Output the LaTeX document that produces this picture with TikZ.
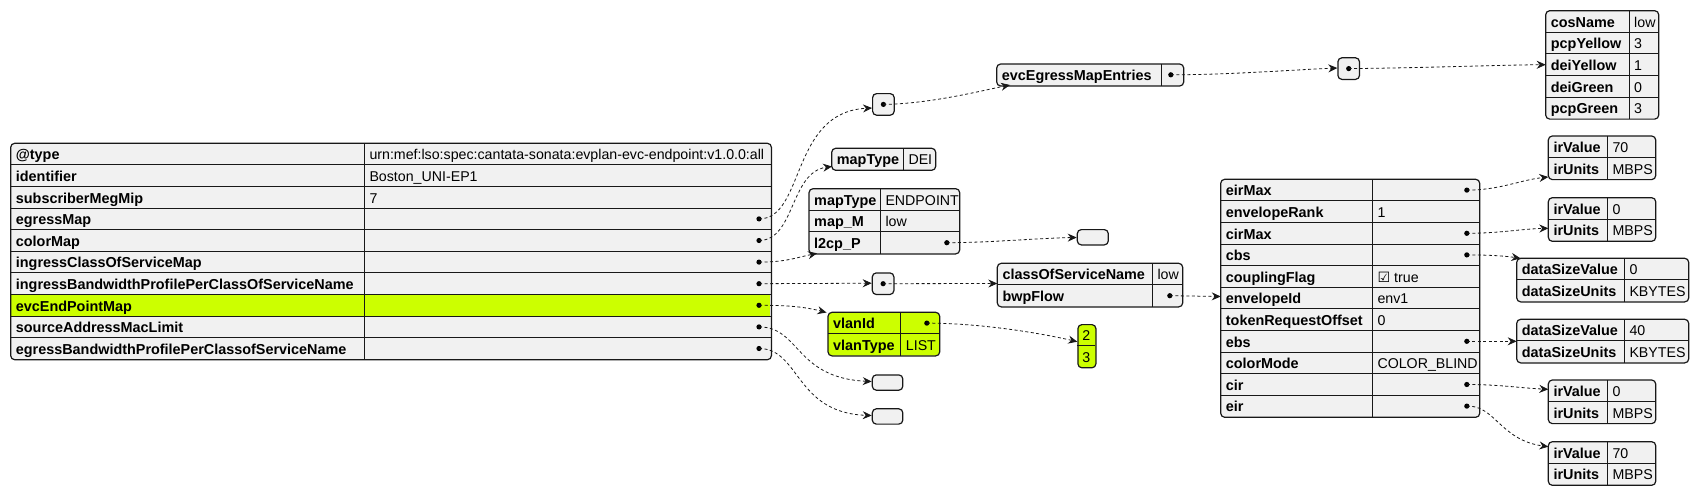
\documentclass[tikz,border=0pt]{standalone}
\usepackage{fontspec}
\setmainfont{Liberation Sans}
\newfontfamily\symf{DejaVu Sans}
\usetikzlibrary{arrows.meta}
\definecolor{jgray}{HTML}{F1F1F1}
\definecolor{jdark}{HTML}{181818}
\definecolor{jgreen}{HTML}{CCFF00}
\newcommand{\jkeyfont}{\bfseries\fontsize{14.4}{16}\selectfont}
\newcommand{\jvalfont}{\fontsize{14.2}{16}\selectfont}
% #1 name, #2 x1, #3 x2, #4 ytop, #5 nrows, #6 fill
\newcommand{\jbox}[6]{%
  \pgfmathsetmacro{\jh}{#5*21.6}\pgfmathsetmacro{\jw}{#3-#2}%
  \node[jboxst, fill=#6, minimum width=\jw pt, minimum height=\jh pt] (#1) at (#2,#4) {};}
% #1 name, #2 x1, #3 xd, #4 x2, #5 ytop, #6 nrows, #7 list key/val
\newcommand{\jrows}[7]{%
  \ifnum#6>1
    \foreach \j in {1,...,\numexpr#6-1\relax}{\draw[jline] (#2,{#5+\j*21.6}) -- (#4,{#5+\j*21.6});}
  \fi
  \draw[jline] (#3,#5) -- (#3,{#5+#6*21.6});
  \foreach \k/\v [count=\i from 0] in {#7}{%
    \node[jkey] (#1k\i) at ({#2+5},{#5+\i*21.6+16.6}) {\k};
    \node[jval] (#1v\i) at ({#3+5},{#5+\i*21.6+16.6}) {\v};
  }%
  \draw[jborder] (#1.north west) rectangle (#1.south east);}
\begin{document}
\begin{tikzpicture}[x=1pt,y=-1pt,
  jboxst/.style={draw=none, rounded corners=4pt, inner sep=0pt, anchor=north west},
  jborder/.style={draw=jdark, line width=1.2pt, rounded corners=4pt},
  jline/.style={draw=jdark, line width=0.9pt},
  jkey/.style={anchor=base west, inner sep=0pt, font=\jkeyfont},
  jval/.style={anchor=base west, inner sep=0pt, font=\jvalfont},
  jdot/.style={circle, fill=black, draw=none, inner sep=0pt, minimum size=5.2pt},
  jarrow/.style={draw=jdark, line width=0.8pt, dash pattern=on 3pt off 2.5pt,
     -{Stealth[length=9pt,width=8pt,inset=3pt]}},
]
\useasboundingbox (0,0) rectangle (1699,495);

% ---------- main table ----------
\jbox{main}{10.7}{771}{143.3}{10}{jgray}
\fill[jgreen] (11.3,{143.3+7*21.6}) rectangle (770.4,{143.3+8*21.6});
\jrows{main}{10.7}{364.3}{771}{143.3}{10}{%
  @type/urn:mef:lso:spec:cantata-sonata:evplan-evc-endpoint:v1.0.0:all,
  identifier/Boston\_UNI-EP1,
  subscriberMegMip/7,
  egressMap/{},
  colorMap/{},
  ingressClassOfServiceMap/{},
  ingressBandwidthProfilePerClassOfServiceName/{},
  evcEndPointMap/{},
  sourceAddressMacLimit/{},
  egressBandwidthProfilePerClassofServiceName/{}}
\node[jdot] (dEgress) at (759,218.9) {};
\node[jdot] (dColor) at (759,240.5) {};
\node[jdot] (dIngCos) at (759,262.1) {};
\node[jdot] (dIngBw) at (759,283.7) {};
\node[jdot] (dEvcEp) at (759,305.3) {};
\node[jdot] (dSrc) at (759,326.9) {};
\node[jdot] (dEgrBw) at (759,348.5) {};

% ---------- second column ----------
\node[jboxst, draw=jdark, line width=1.2pt, fill=jgray, minimum width=21.6pt, minimum height=21.6pt] (arrA) at (872,93) {};
\node[jdot] (dArrA) at (arrA.center) {};

\jbox{dei}{831.7}{935.3}{148.3}{1}{jgray}
\jrows{dei}{831.7}{903.3}{935.3}{148.3}{1}{mapType/DEI}

\jbox{endp}{809}{959.3}{188.7}{3}{jgray}
\jrows{endp}{809}{880.3}{959.3}{188.7}{3}{mapType/ENDPOINT, map\_M/low, l2cp\_P/{}}
\node[jdot] (dL2cp) at (946.8,242.7) {};

\node[jboxst, draw=jdark, line width=1.2pt, fill=jgray, minimum width=21.6pt, minimum height=21.6pt] (arrB) at (871.7,272.3) {};
\node[jdot] (dArrB) at (arrB.center) {};

\jbox{vlan}{828}{939.3}{312.3}{2}{jgreen}
\jrows{vlan}{828}{900.7}{939.3}{312.3}{2}{vlanId/{}, vlanType/LIST}
\node[jdot] (dVlan) at (926.8,323.1) {};

\node[jboxst, draw=jdark, line width=1.2pt, fill=jgray, minimum width=30.5pt, minimum height=15.3pt] (emptyA) at (871.7,374.3) {};
\node[jboxst, draw=jdark, line width=1.2pt, fill=jgray, minimum width=30.5pt, minimum height=15.3pt] (emptyB) at (871.7,408.2) {};

% ---------- third column ----------
\jbox{egrEnt}{996.7}{1183.3}{64}{1}{jgray}
\jrows{egrEnt}{996.7}{1161.7}{1183.3}{64}{1}{evcEgressMapEntries/{}}
\node[jdot] (dEgrEnt) at (1170.8,74.8) {};

\node[jboxst, draw=jdark, line width=1.2pt, fill=jgray, minimum width=31pt, minimum height=15.3pt] (emptyC) at (1076.7,229) {};

\jbox{cls}{997.3}{1182.3}{263.3}{2}{jgray}
\jrows{cls}{997.3}{1152.3}{1182.3}{263.3}{2}{classOfServiceName/low, bwpFlow/{}}
\node[jdot] (dBwp) at (1169.8,295.7) {};

\node[jboxst, draw=jdark, line width=1.2pt, fill=jgreen, minimum width=18pt, minimum height=43.2pt] (lst) at (1077.3,324) {};
\draw[jline] (1077.3,345.6) -- (1095.3,345.6);
\node[jval, anchor=base] (lst0) at (1086.3,340.6) {2};
\node[jval, anchor=base] (lst1) at (1086.3,362.2) {3};

% ---------- fourth column ----------
\node[jboxst, draw=jdark, line width=1.2pt, fill=jgray, minimum width=21.6pt, minimum height=21.6pt] (arrC) at (1337.3,57.2) {};
\node[jdot] (dArrC) at (arrC.center) {};

\jbox{bwp}{1220.7}{1479.3}{179.3}{11}{jgray}
\jrows{bwp}{1220.7}{1372.3}{1479.3}{179.3}{11}{%
  eirMax/{}, envelopeRank/1, cirMax/{}, cbs/{},
  couplingFlag/{{\symf ☑}~true}, envelopeId/env1, tokenRequestOffset/0,
  ebs/{}, colorMode/COLOR\_BLIND, cir/{}, eir/{}}
\node[jdot] (dEirMax) at (1466.8,190.1) {};
\node[jdot] (dCirMax) at (1466.8,233.3) {};
\node[jdot] (dCbs) at (1466.8,254.9) {};
\node[jdot] (dEbs) at (1466.8,341.3) {};
\node[jdot] (dCir) at (1466.8,384.5) {};
\node[jdot] (dEir) at (1466.8,406.1) {};

% ---------- fifth column ----------
\jbox{cos}{1545.7}{1658.3}{10.7}{5}{jgray}
\jrows{cos}{1545.7}{1629}{1658.3}{10.7}{5}{cosName/low, pcpYellow/3, deiYellow/1, deiGreen/0, pcpGreen/3}

\jbox{irA}{1548.3}{1655.3}{136}{2}{jgray}
\jrows{irA}{1548.3}{1607.3}{1655.3}{136}{2}{irValue/70, irUnits/MBPS}
\jbox{irB}{1548.3}{1655.3}{197.7}{2}{jgray}
\jrows{irB}{1548.3}{1607.3}{1655.3}{197.7}{2}{irValue/0, irUnits/MBPS}
\jbox{dsA}{1516.7}{1688.3}{258.3}{2}{jgray}
\jrows{dsA}{1516.7}{1624.3}{1688.3}{258.3}{2}{dataSizeValue/0, dataSizeUnits/KBYTES}
\jbox{dsB}{1516.7}{1688.3}{319.3}{2}{jgray}
\jrows{dsB}{1516.7}{1624.3}{1688.3}{319.3}{2}{dataSizeValue/40, dataSizeUnits/KBYTES}
\jbox{irC}{1548.3}{1655.3}{380}{2}{jgray}
\jrows{irC}{1548.3}{1607.3}{1655.3}{380}{2}{irValue/0, irUnits/MBPS}
\jbox{irD}{1548.3}{1655.3}{441.7}{2}{jgray}
\jrows{irD}{1548.3}{1607.3}{1655.3}{441.7}{2}{irValue/70, irUnits/MBPS}

% ---------- arrow targets ----------
\coordinate (tArrA) at (872,108);
\coordinate (tDei) at (832,166.5);
\coordinate (tEndp) at (817,253.3);
\coordinate (tArrB) at (871.7,283.2);
\coordinate (tVlan) at (826.5,312.5);
\coordinate (tEmptyA) at (871.7,381.5);
\coordinate (tEmptyB) at (871.7,415.5);
\coordinate (tEgrEnt) at (1010,85);
\coordinate (tArrC) at (1337.3,68);
\coordinate (tCos) at (1545.7,64.7);
\coordinate (tEmptyC) at (1076.7,237.5);
\coordinate (tCls) at (997.3,283.5);
\coordinate (tLst) at (1077.3,341.7);
\coordinate (tBwp) at (1220.7,296.5);
\coordinate (tIrA) at (1548.3,177);
\coordinate (tIrB) at (1548.3,228.3);
\coordinate (tDsA) at (1520.5,258.3);
\coordinate (tDsB) at (1516.7,341.3);
\coordinate (tIrC) at (1548.3,389.3);
\coordinate (tIrD) at (1548.3,446.7);

% ---------- connectors ----------
\draw[jarrow] (dEgress.center) .. controls (805,218.9) and (790,112) .. (tArrA);
\draw[jarrow] (dColor.center) .. controls (795,240.5) and (790,172) .. (tDei);
\draw[jarrow] (dIngCos.center) .. controls (785,262.1) and (795,258) .. (tEndp);
\draw[jarrow] (dIngBw.center) -- (tArrB);
\draw[jarrow] (dEvcEp.center) .. controls (790,305.3) and (805,307) .. (tVlan);
\draw[jarrow] (dSrc.center) .. controls (800,326.9) and (795,378) .. (tEmptyA);
\draw[jarrow] (dEgrBw.center) .. controls (800,348.5) and (795,413) .. (tEmptyB);
\draw[jarrow] (dArrA.center) .. controls (930,103.8) and (980,91) .. (tEgrEnt);
\draw[jarrow] (dEgrEnt.center) .. controls (1230,74.8) and (1290,70) .. (tArrC);
\draw[jarrow] (dArrC.center) .. controls (1420,68) and (1500,65) .. (tCos);
\draw[jarrow] (dL2cp.center) .. controls (990,242.7) and (1040,238) .. (tEmptyC);
\draw[jarrow] (dArrB.center) -- (tCls);
\draw[jarrow] (dVlan.center) .. controls (980,323.1) and (1040,333) .. (tLst);
\draw[jarrow] (dBwp.center) -- (tBwp);
\draw[jarrow] (dEirMax.center) .. controls (1500,190.1) and (1520,180) .. (tIrA);
\draw[jarrow] (dCirMax.center) .. controls (1500,233.3) and (1520,229) .. (tIrB);
\draw[jarrow] (dCbs.center) .. controls (1490,254.9) and (1505,256) .. (tDsA);
\draw[jarrow] (dEbs.center) -- (tDsB);
\draw[jarrow] (dCir.center) .. controls (1500,384.5) and (1520,388) .. (tIrC);
\draw[jarrow] (dEir.center) .. controls (1495,405) and (1500,440) .. (tIrD);
\end{tikzpicture}
\end{document}
